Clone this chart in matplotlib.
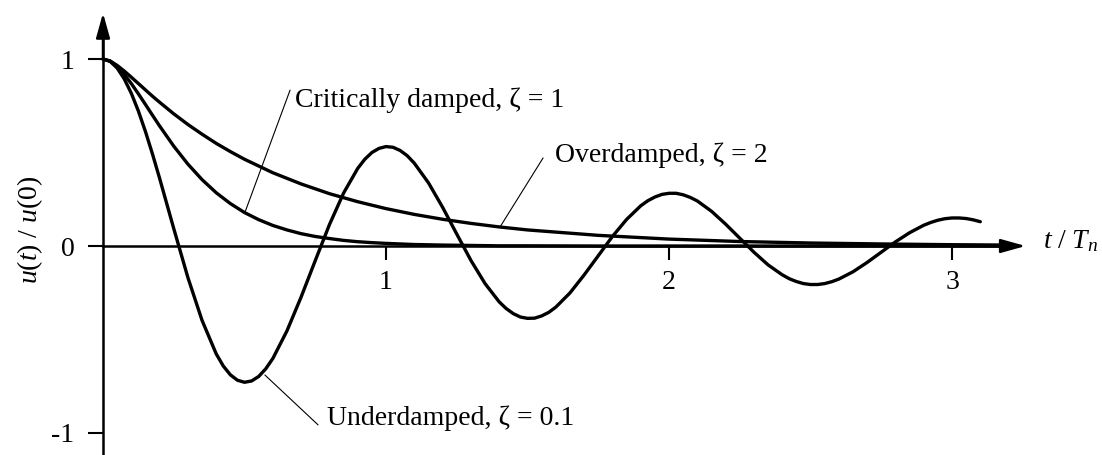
import matplotlib.pyplot as plt

# Fonter: Times-lignende serif
plt.rcParams['font.family'] = ['Liberation Serif', 'DejaVu Serif']
plt.rcParams['mathtext.fontset'] = 'custom'
plt.rcParams['mathtext.rm'] = 'Liberation Serif'
plt.rcParams['mathtext.it'] = 'Liberation Serif:italic'
plt.rcParams['axes.unicode_minus'] = False

# u(t)/u(0) mot t/Tn
t_under = [0, 0.025, 0.05, 0.075, 0.1, 0.125, 0.15, 0.175, 0.2,
           0.25, 0.3, 0.35, 0.4,
           0.425, 0.45, 0.475, 0.5, 0.525, 0.55, 0.575, 0.6,
           0.65, 0.7, 0.75, 0.8, 0.85, 0.9,
           0.925, 0.95, 0.975, 1.0, 1.025, 1.05, 1.075, 1.1,
           1.15, 1.2, 1.25, 1.3, 1.35, 1.4,
           1.425, 1.45, 1.475, 1.5, 1.525, 1.55, 1.575, 1.6,
           1.65, 1.7, 1.75, 1.8, 1.85, 1.9,
           1.925, 1.95, 1.975, 2.0, 2.025, 2.05, 2.075, 2.1,
           2.15, 2.2, 2.25, 2.3, 2.35, 2.4,
           2.425, 2.45, 2.475, 2.5, 2.525, 2.55, 2.575, 2.6,
           2.65, 2.7, 2.75, 2.8, 2.85, 2.9,
           2.925, 2.95, 2.975, 3.0, 3.025, 3.05, 3.075, 3.1]
u_under = [1.000, 0.988, 0.952, 0.894, 0.817, 0.722, 0.612, 0.491, 0.362,
           0.093, -0.169, -0.398, -0.577,
           -0.642, -0.689, -0.718, -0.729, -0.722, -0.698, -0.657, -0.602,
           -0.454, -0.273, -0.078, 0.114, 0.283, 0.415,
           0.464, 0.500, 0.522, 0.532, 0.528, 0.511, 0.483, 0.443,
           0.338, 0.207, 0.064, -0.077, -0.201, -0.299,
           -0.335, -0.362, -0.380, -0.387, -0.386, -0.374, -0.355, -0.327,
           -0.251, -0.155, -0.052, 0.051, 0.142, 0.215,
           0.242, 0.262, 0.276, 0.282, 0.282, 0.274, 0.260, 0.241,
           0.186, 0.117, 0.042, -0.033, -0.101, -0.154,
           -0.175, -0.190, -0.201, -0.206, -0.206, -0.201, -0.191, -0.177,
           -0.138, -0.088, -0.033, 0.022, 0.071, 0.111,
           0.126, 0.138, 0.146, 0.150, 0.150, 0.147, 0.140, 0.130]

t_crit = [0, 0.025, 0.05, 0.075, 0.1, 0.125, 0.15, 0.175, 0.2, 0.25, 0.3, 0.35,
          0.4, 0.45, 0.5, 0.55, 0.6, 0.65, 0.7, 0.75, 0.8, 0.85, 0.9, 0.95, 1.0,
          1.1, 1.2, 1.3, 1.4, 1.5, 1.75, 2.0, 2.5, 3.0, 3.2]
u_crit = [1.000, 0.989, 0.960, 0.918, 0.869, 0.814, 0.757, 0.699, 0.642, 0.534,
          0.438, 0.355, 0.285, 0.227, 0.179, 0.141, 0.110, 0.086, 0.066, 0.051,
          0.040, 0.030, 0.023, 0.018, 0.014, 0.008, 0.005, 0.003, 0.001, 0.001,
          0.000, 0.000, 0.000, 0.000, 0.000]

t_over = [0, 0.025, 0.05, 0.075, 0.1, 0.125, 0.15, 0.175, 0.2, 0.25, 0.3, 0.35,
          0.4, 0.45, 0.5, 0.6, 0.7, 0.8, 0.9, 1.0, 1.1, 1.2, 1.3, 1.4, 1.5,
          1.75, 2.0, 2.25, 2.5, 2.75, 3.0, 3.2]
u_over = [1.000, 0.990, 0.966, 0.936, 0.903, 0.869, 0.835, 0.801, 0.769, 0.707,
          0.650, 0.598, 0.549, 0.505, 0.464, 0.392, 0.332, 0.280, 0.237, 0.200,
          0.169, 0.143, 0.121, 0.102, 0.086, 0.057, 0.037, 0.024, 0.016, 0.011,
          0.007, 0.005]

x_ticks = [1, 2, 3]
y_ticks = [-1, 0, 1]
y_ticklabels = ['-1', '0', '1']

fig = plt.figure(figsize=(11.02, 4.55), dpi=100)
ax = fig.add_axes([0, 0, 1, 1])
ax.set_xlim(-0.364, 3.530)
ax.set_ylim(-1.118, 1.316)

# Kurvene
kw = dict(color='black', lw=2.4, solid_capstyle='round', solid_joinstyle='round')
ax.plot(t_under, u_under, **kw)
ax.plot(t_crit, u_crit, **kw)
ax.plot(t_over, u_over, **kw)

# Akser som krysser i (0, 0)
ax.spines['right'].set_visible(False)
ax.spines['top'].set_visible(False)
ax.spines['left'].set_position(('data', 0))
ax.spines['bottom'].set_position(('data', 0))
ax.spines['left'].set_bounds(-1.2, 1.2)
ax.spines['bottom'].set_bounds(0, 3.2)
for s in ('left', 'bottom'):
    ax.spines[s].set_linewidth(1.8)

# Pilspisser
arrow = dict(arrowstyle='-|>,head_length=1.0,head_width=0.28', color='black',
             lw=1.8, shrinkA=0, shrinkB=0, mutation_scale=15)
ax.annotate('', xy=(3.26, 0), xytext=(3.0, 0), arrowprops=arrow)
ax.annotate('', xy=(0, 1.246), xytext=(0, 1.0), arrowprops=arrow)

ax.set_xticks(x_ticks)
ax.set_yticks(y_ticks, labels=y_ticklabels)
ax.tick_params(axis='x', direction='out', length=10, width=1.5, pad=7, labelsize=20)
ax.tick_params(axis='y', direction='out', length=10.5, width=1.5, pad=10, labelsize=20)

# Aksetitler
ax.text(-0.258, 0.086, r'$u(t)\ /\ u(0)$', rotation=90, ha='center', va='center',
        fontsize=20)
ax.text(3.322, -0.011, r'$t\ /\ T_n$', ha='left', va='baseline', fontsize=20)

# Merkelapper med streker
thin = dict(arrowstyle='-', color='black', lw=0.8, shrinkA=0, shrinkB=0)
ax.annotate('', xy=(0.502, 0.182), xytext=(0.661, 0.834), arrowprops=thin)
ax.text(0.678, 0.743, 'Critically damped, ζ = 1', ha='left', va='baseline', fontsize=20)

ax.annotate('', xy=(1.403, 0.102), xytext=(1.555, 0.471), arrowprops=thin)
ax.text(1.597, 0.449, 'Overdamped, ζ = 2', ha='left', va='baseline', fontsize=20)

ax.annotate('', xy=(0.572, -0.690), xytext=(0.760, -0.957), arrowprops=thin)
ax.text(0.792, -0.957, 'Underdamped, ζ = 0.1', ha='left', va='baseline', fontsize=20)

fig.savefig('out.png', dpi=100)
